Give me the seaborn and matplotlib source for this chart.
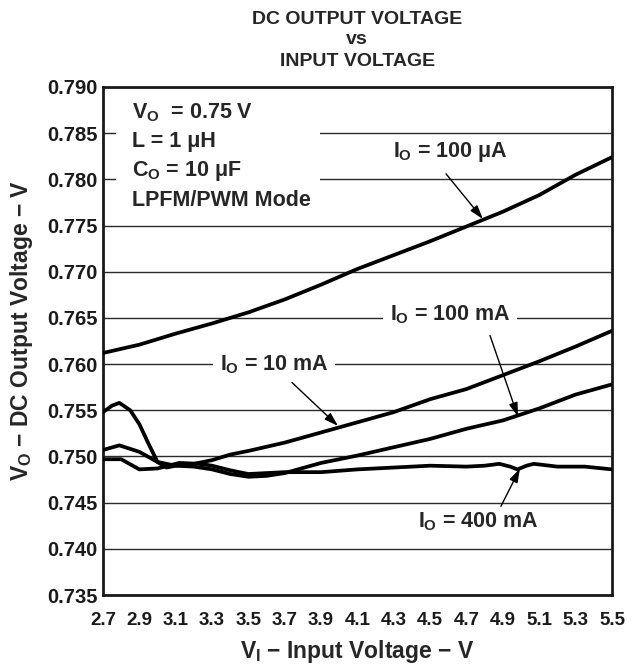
import numpy as np
import pandas as pd
import matplotlib
matplotlib.use("Agg")
import matplotlib.pyplot as plt
import seaborn as sns
from matplotlib.patches import Rectangle

# ---------------- data ----------------
vi_100ua = [2.7, 2.9, 3.1, 3.3, 3.5, 3.7, 3.9, 4.1, 4.3, 4.5, 4.7, 4.9, 5.1, 5.3, 5.5]
vo_100ua = [0.7612, 0.7621, 0.7633, 0.7644, 0.7656, 0.7670, 0.7686, 0.7703, 0.7718,
            0.7733, 0.7749, 0.7765, 0.7783, 0.7805, 0.7824]

vi_10ma = [2.7, 2.75, 2.79, 2.85, 2.9, 2.95, 3.0, 3.05, 3.1, 3.2, 3.3, 3.4, 3.5, 3.7,
           3.9, 4.1, 4.3, 4.5, 4.7, 4.9, 5.1, 5.3, 5.5]
vo_10ma = [0.7548, 0.7555, 0.7558, 0.7550, 0.7535, 0.7514, 0.7494, 0.7488, 0.7490,
           0.7492, 0.7496, 0.7502, 0.7506, 0.7515, 0.7526, 0.7537, 0.7548, 0.7562,
           0.7573, 0.7588, 0.7603, 0.7619, 0.7636]

vi_100ma = [2.7, 2.79, 2.9, 3.0, 3.1, 3.2, 3.3, 3.4, 3.5, 3.6, 3.7, 3.9, 4.1, 4.3,
            4.5, 4.7, 4.9, 5.1, 5.3, 5.5]
vo_100ma = [0.7507, 0.7512, 0.7505, 0.7494, 0.7490, 0.7489, 0.7486, 0.7481, 0.7478,
            0.7479, 0.7482, 0.7493, 0.7501, 0.7510, 0.7519, 0.7530, 0.7539, 0.7552,
            0.7567, 0.7578]

vi_400ma = [2.7, 2.8, 2.9, 3.0, 3.12, 3.23, 3.3, 3.4, 3.5, 3.7, 3.9, 4.1, 4.3, 4.5,
            4.7, 4.8, 4.88, 4.94, 4.98, 5.03, 5.07, 5.2, 5.35, 5.5]
vo_400ma = [0.7497, 0.7497, 0.7486, 0.7487, 0.7493, 0.7492, 0.7490, 0.7485, 0.7481,
            0.7483, 0.7483, 0.7486, 0.7488, 0.7490, 0.7489, 0.7490, 0.7492, 0.7489,
            0.7486, 0.7490, 0.7492, 0.7489, 0.7489, 0.7486]

series_names = ["100uA", "10mA", "100mA", "400mA"]
x_ticks = [2.7, 2.9, 3.1, 3.3, 3.5, 3.7, 3.9, 4.1, 4.3, 4.5, 4.7, 4.9, 5.1, 5.3, 5.5]
x_tick_labels = ["2.7", "2.9", "3.1", "3.3", "3.5", "3.7", "3.9", "4.1", "4.3",
                 "4.5", "4.7", "4.9", "5.1", "5.3", "5.5"]
y_ticks = [0.735, 0.740, 0.745, 0.750, 0.755, 0.760, 0.765, 0.770, 0.775, 0.780,
           0.785, 0.790]
y_tick_labels = ["0.735", "0.740", "0.745", "0.750", "0.755", "0.760", "0.765",
                 "0.770", "0.775", "0.780", "0.785", "0.790"]

# ---------------- style ----------------
sns.set_theme(style="white")
plt.rcParams["font.family"] = ["Liberation Sans", "DejaVu Sans"]
plt.rcParams["font.weight"] = "bold"
plt.rcParams["mathtext.fontset"] = "custom"
plt.rcParams["mathtext.rm"] = "Liberation Sans:bold"
plt.rcParams["mathtext.it"] = "Liberation Sans:bold"
plt.rcParams["mathtext.bf"] = "Liberation Sans:bold"

df = pd.concat([
    pd.DataFrame({"vi": vi_100ua, "vo": vo_100ua, "s": series_names[0]}),
    pd.DataFrame({"vi": vi_10ma, "vo": vo_10ma, "s": series_names[1]}),
    pd.DataFrame({"vi": vi_100ma, "vo": vo_100ma, "s": series_names[2]}),
    pd.DataFrame({"vi": vi_400ma, "vo": vo_400ma, "s": series_names[3]}),
], ignore_index=True)

fig = plt.figure(figsize=(6.38, 6.66), dpi=100)
ax = fig.add_axes([0.1614, 0.1066, 0.7978, 0.7628])

sns.lineplot(data=df, x="vi", y="vo", hue="s", units="s", estimator=None,
             palette=["black"] * 4, linewidth=2.7, legend=False, sort=False,
             ax=ax, zorder=3)

ax.set_xlim(2.7, 5.5)
ax.set_ylim(0.735, 0.790)
ax.set_xticks(x_ticks)
ax.set_xticklabels(x_tick_labels, fontsize=13.5, fontweight="bold")
ax.set_yticks(y_ticks)
ax.set_yticklabels(y_tick_labels, fontsize=14.5, fontweight="bold")
ax.tick_params(axis="both", length=0, colors="#1a1a1a")
ax.tick_params(axis="x", pad=12)
ax.tick_params(axis="y", pad=4)

ax.set_axisbelow(True)
ax.yaxis.grid(True, color="#2a2a2a", linewidth=1.0)
ax.xaxis.grid(False)
for sp in ax.spines.values():
    sp.set_visible(True)
    sp.set_color("#1a1a1a")
    sp.set_linewidth(2.0)

ax.set_xlabel(r"$V_I$ − Input Voltage − V", fontsize=16.5, fontweight="bold",
              labelpad=7)
ax.set_ylabel(r"$V_O$ − DC Output Voltage − V", fontsize=16.5, fontweight="bold")
ax.yaxis.set_label_coords(-0.134, 0.52)

# title
cx = 0.56
fig.text(cx, 1 - 20 / 666, "DC OUTPUT VOLTAGE", ha="center", va="center",
         fontsize=14, fontweight="bold")
fig.text(cx, 1 - 40 / 666, "vs", ha="center", va="center",
         fontsize=14, fontweight="bold")
fig.text(cx, 1 - 61 / 666, "INPUT VOLTAGE", ha="center", va="center",
         fontsize=14, fontweight="bold")

# condition box (white background breaks gridlines)
ax.add_patch(Rectangle((2.772, 0.7762), 1.12, 0.0135, facecolor="white",
                       edgecolor="none", zorder=1))
cond = [r"$V_O$  = 0.75 V", "L = 1 μH", r"$C_O$ = 10 μF", "LPFM/PWM Mode"]
cond_y = [0.7872, 0.7841, 0.7809, 0.7777]
for t, yv in zip(cond, cond_y):
    ax.text(2.86, yv, t, ha="left", va="center", fontsize=15.5,
            fontweight="bold", zorder=2)

arrow = dict(arrowstyle="-|>,head_length=0.7,head_width=0.22", color="black",
             lw=1.0, shrinkA=0, shrinkB=0)
lab = dict(ha="center", va="center", fontsize=15.5, fontweight="bold", zorder=4)
box = dict(boxstyle="square,pad=0.3", facecolor="white", edgecolor="none")

ax.text(4.609, 0.7830, r"$I_O$ = 100 μA", **lab)
ax.annotate("", xy=(4.79, 0.7757), xytext=(4.587, 0.7806), arrowprops=arrow,
            zorder=4)

ax.text(4.609, 0.7653, r"$I_O$ = 100 mA", bbox=box, **lab)
ax.annotate("", xy=(4.983, 0.7543), xytext=(4.829, 0.7631), arrowprops=arrow,
            zorder=4)

ax.text(3.641, 0.7599, r"$I_O$ = 10 mA", bbox=box, **lab)
ax.annotate("", xy=(3.993, 0.7533), xytext=(3.74, 0.7580), arrowprops=arrow,
            zorder=4)

ax.text(4.763, 0.7429, r"$I_O$ = 400 mA", **lab)
ax.annotate("", xy=(4.994, 0.7487), xytext=(4.889, 0.7446), arrowprops=arrow,
            zorder=4)

fig.savefig("out.png", dpi=100, facecolor="white")
